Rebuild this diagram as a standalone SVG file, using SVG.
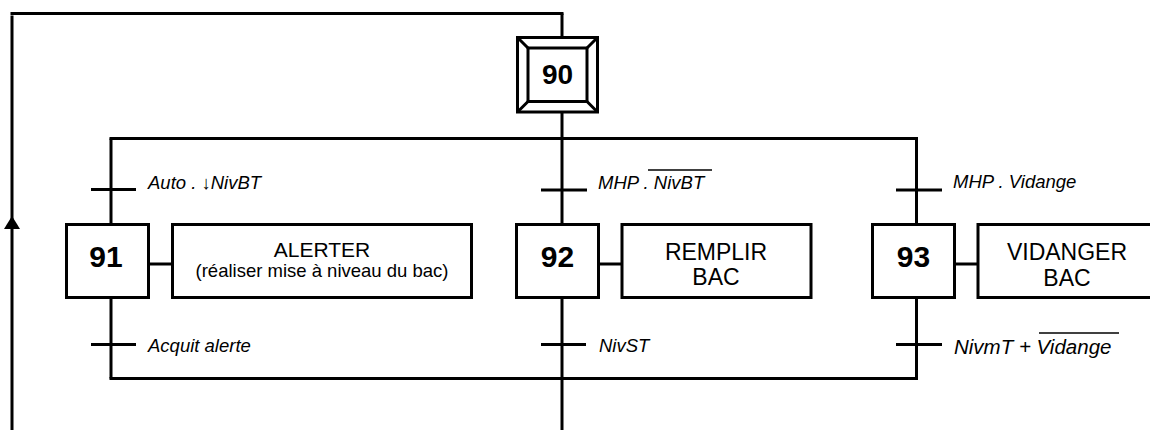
<svg xmlns="http://www.w3.org/2000/svg" width="1150" height="430" viewBox="0 0 1150 430">
<defs>
<style>
.ln{stroke:#000;stroke-width:3;fill:none}
.box{stroke:#000;stroke-width:3;fill:#fff}
.ov{stroke:#000;stroke-width:1.5}
.num{font-family:"Liberation Sans",Arial,sans-serif;font-weight:bold;font-size:30px;text-anchor:middle;fill:#000}
.act{font-family:"Liberation Sans",Arial,sans-serif;font-size:23px;text-anchor:middle;fill:#000}
.cond{font-family:"Liberation Sans",Arial,sans-serif;font-style:italic;font-size:18.5px;fill:#000}
</style>
</defs>
<rect width="1150" height="430" fill="#fff"/>
<g id="connectors">
<line class="ln" x1="10.5" y1="13.5" x2="563.5" y2="13.5"/>
<line class="ln" x1="12" y1="15.5" x2="12" y2="430"/>
<polygon points="12,216 4,229 20,229" fill="#000"/>
<line class="ln" x1="562" y1="13.5" x2="562" y2="37"/>
<line class="ln" x1="562" y1="112" x2="562" y2="224"/>
<line class="ln" x1="109.5" y1="138.5" x2="918" y2="138.5"/>
<line class="ln" x1="111" y1="138.5" x2="111" y2="224"/>
<line class="ln" x1="916.5" y1="138.5" x2="916.5" y2="224"/>
<line class="ln" x1="149" y1="264" x2="173" y2="264"/>
<line class="ln" x1="599" y1="264" x2="622" y2="264"/>
<line class="ln" x1="955" y1="264" x2="978" y2="264"/>
<line class="ln" x1="111" y1="298" x2="111" y2="378.5"/>
<line class="ln" x1="562" y1="298" x2="562" y2="430"/>
<line class="ln" x1="916.5" y1="298" x2="916.5" y2="378.5"/>
<line class="ln" x1="109.5" y1="378.5" x2="918" y2="378.5"/>
</g>
<g id="step90">
<rect class="box" x="517.5" y="37.5" width="80" height="74.5"/>
<rect class="ln" x="528" y="48" width="59" height="53.5"/>
<line class="ln" x1="517.5" y1="37.5" x2="528" y2="48"/>
<line class="ln" x1="597.5" y1="37.5" x2="587" y2="48"/>
<line class="ln" x1="517.5" y1="112" x2="528" y2="101.5"/>
<line class="ln" x1="597.5" y1="112" x2="587" y2="101.5"/>
<text class="num" x="557.5" y="84" style="font-size:28px">90</text>
</g>
<g id="t90-91">
<line class="ln" x1="91" y1="189.5" x2="136" y2="189.5"/>
<text class="cond" x="148" y="189">Auto . ↓NivBT</text>
</g>
<g id="t90-92">
<line class="ln" x1="541" y1="190" x2="587" y2="190"/>
<text class="cond" x="598" y="189">MHP . NivBT</text>
<line class="ov" x1="648" y1="170" x2="712" y2="170"/>
</g>
<g id="t90-93">
<line class="ln" x1="896" y1="190" x2="942" y2="190"/>
<text class="cond" x="953" y="188">MHP . Vidange</text>
</g>
<g id="step91">
<rect class="box" x="66.5" y="224.5" width="82" height="73"/>
<text class="num" x="106" y="267">91</text>
</g>
<g id="action91">
<rect class="box" x="172.5" y="224.5" width="299" height="73"/>
<text class="act" x="322" y="257" style="font-size:21px">ALERTER</text>
<text class="act" x="322" y="277" style="font-size:18.5px">(réaliser mise à niveau du bac)</text>
</g>
<g id="step92">
<rect class="box" x="516.5" y="224.5" width="82" height="73"/>
<text class="num" x="557.5" y="267">92</text>
</g>
<g id="action92">
<rect class="box" x="622" y="224.5" width="189" height="73"/>
<text class="act" x="716" y="260">REMPLIR</text>
<text class="act" x="716" y="285">BAC</text>
</g>
<g id="step93">
<rect class="box" x="872.5" y="224.5" width="82" height="73"/>
<text class="num" x="913.5" y="267">93</text>
</g>
<g id="action93">
<rect class="box" x="978" y="224.5" width="178" height="73"/>
<text class="act" x="1067" y="259.5">VIDANGER</text>
<text class="act" x="1067" y="285.5">BAC</text>
</g>
<g id="t91-out">
<line class="ln" x1="91" y1="344.5" x2="136" y2="344.5"/>
<text class="cond" x="148" y="352">Acquit alerte</text>
</g>
<g id="t92-out">
<line class="ln" x1="541" y1="344.5" x2="586" y2="344.5"/>
<text class="cond" x="599" y="352">NivST</text>
</g>
<g id="t93-out">
<line class="ln" x1="896" y1="344.5" x2="942" y2="344.5"/>
<text class="cond" x="954" y="354" style="font-size:20.5px">NivmT + Vidange</text>
<line class="ov" x1="1039" y1="333" x2="1119" y2="333"/>
</g>
</svg>
